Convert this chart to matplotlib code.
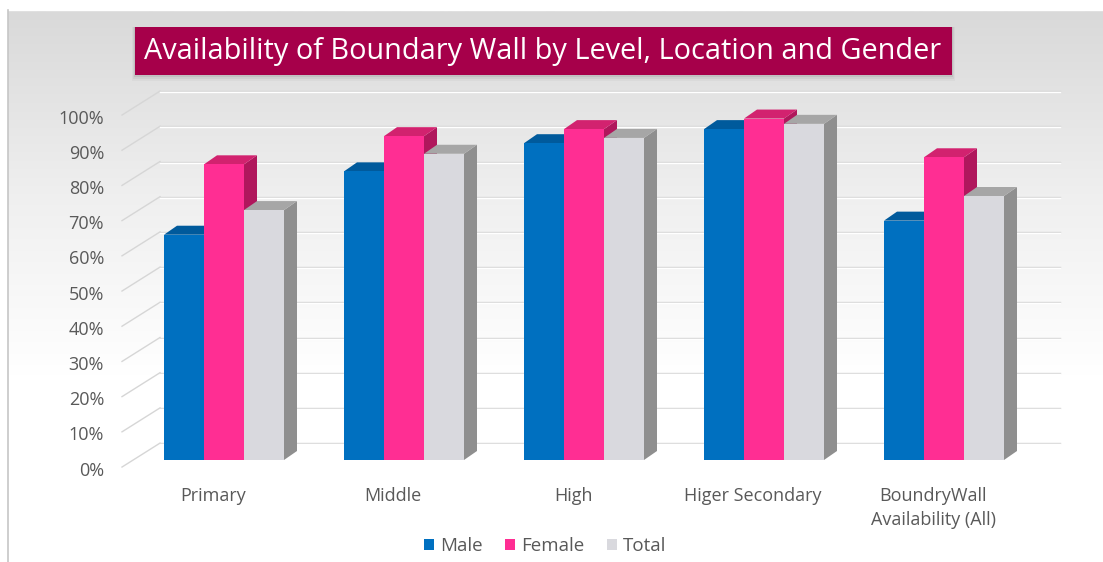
import numpy as np
import matplotlib
matplotlib.use('Agg')
import matplotlib.pyplot as plt
from matplotlib.patches import Polygon, Rectangle, Patch
from matplotlib.colors import LinearSegmentedColormap

plt.rcParams['font.family'] = ['Open Sans', 'DejaVu Sans']

# Boundary wall availability (%) by school level
categories = ['Primary', 'Middle', 'High', 'Higer Secondary', 'BoundryWall\nAvailability (All)']
male = [64, 82, 90, 94, 68]
female = [84, 92, 94, 97, 86]
total = [71, 87, 91.5, 95.5, 75]
series_names = ['Male', 'Female', 'Total']
y_ticks = list(range(0, 101, 10))

# front / top / side shades for each series
shades = {
    'Male': ('#0070c0', '#005a9c', '#004f8a'),
    'Female': ('#ff2e93', '#d2226f', '#b0175c'),
    'Total': ('#d9d9de', '#a6a6a6', '#8f8f8f'),
}

W, H = 1103, 562
fig = plt.figure(figsize=(W / 100, H / 100), dpi=100)

# background panel: grey fading to white
bg = fig.add_axes([0, 0, 1, 1])
bg.set_xlim(0, W)
bg.set_ylim(H, 0)
bg.axis('off')
grad = np.linspace(0, 1, 400).reshape(-1, 1)
cmap = LinearSegmentedColormap.from_list('bg', ['#d9d9d9', '#efefef', '#ffffff', '#ffffff'])
bg.imshow(grad, cmap=cmap, extent=[8, W, 560, 10], aspect='auto', zorder=0)
bg.add_patch(Rectangle((0, 0), W, 10, color='white', zorder=1))
bg.plot([7.5, 7.5], [10, H], color='#c6c6c6', lw=1.2, zorder=2)

# title banner with a soft shadow
for k, a in enumerate([0.05, 0.08, 0.12]):
    off = 6 - 2 * k
    bg.add_patch(Rectangle((135 - off / 2, 27), 817 + off, 48 + off,
                           color='#606060', alpha=a, lw=0, zorder=3))
bg.add_patch(Rectangle((135, 27), 817, 48, color='#a6004a', lw=0, zorder=4))
bg.text(543, 52, 'Availability of Boundary Wall by Level, Location and Gender',
        color='white', fontsize=20.8, ha='center', va='center', zorder=5)

# main plotting axes (front face of bars: 0% at y=460px, 3.52 px per %)
px_x0, px_x1, px_top, px_bot = 110, 1070, 70, 478
ax = fig.add_axes([px_x0 / W, 1 - px_bot / H, (px_x1 - px_x0) / W, (px_bot - px_top) / H])
ax.patch.set_alpha(0)
grp_px, grp_origin, y_scale, y_zero = 180, 224, 3.52, 460
ax.set_xlim((px_x0 - grp_origin) / grp_px, (px_x1 - grp_origin) / grp_px)
ax.set_ylim((y_zero - px_bot) / y_scale, (y_zero - px_top) / y_scale)
ax.axis('off')

bar_w = 40 / grp_px
dx = 13 / grp_px
dy = 9 / y_scale
back_off = 4.8      # back wall rise in %
label_off = -3.0    # axis labels sit at the front of the floor
wall_x0 = (122 - grp_origin) / grp_px
wall_x1 = (160 - grp_origin) / grp_px
wall_x2 = (1060 - grp_origin) / grp_px

# side wall and back wall gridlines
for v in y_ticks:
    ax.plot([wall_x0, wall_x1], [v + label_off + 1, v + back_off], color='#d6d6d6', lw=1, zorder=1)
    ax.plot([wall_x1, wall_x2], [v + back_off, v + back_off], color='#d6d6d6', lw=1, zorder=1)
    ax.plot([wall_x1, wall_x2], [v + back_off - 0.3, v + back_off - 0.3], color='white', lw=1, zorder=1)
    ax.text(wall_x0 - 0.1, v + label_off, f'{v}%', ha='right', va='center',
            fontsize=13, color='#595959', clip_on=False)

# 3D-looking clustered columns
x = np.arange(len(categories))
for i in x:
    for j, (name, vals) in enumerate(zip(series_names, [male, female, total])):
        h = vals[i]
        x0 = i - 1.5 * bar_w + j * bar_w
        x1 = x0 + bar_w
        front, top, side = shades[name]
        z = 3 + j
        ax.add_patch(Polygon([(x1, 0), (x1 + dx, dy), (x1 + dx, h + dy), (x1, h)],
                             closed=True, fc=side, ec='none', zorder=z))
        ax.add_patch(Polygon([(x0, h), (x1, h), (x1 + dx, h + dy), (x0 + dx, h + dy)],
                             closed=True, fc=top, ec='none', zorder=z))
        ax.bar(x0, h, width=bar_w, align='edge', color=front, lw=0, zorder=z)

# category labels
for i, cat in enumerate(categories):
    ax.text(i - 0.06, -7.8, cat, ha='center', va='top', fontsize=13,
            color='#595959', linespacing=1.4, clip_on=False)

handles = [Patch(facecolor=shades[n][0], edgecolor='none') for n in series_names]
fig.legend(handles, series_names, loc='center', bbox_to_anchor=(545 / W, 1 - 546 / H),
           ncol=3, frameon=False, fontsize=13.5, labelcolor='#595959',
           handlelength=0.55, handleheight=0.55, handletextpad=0.3, columnspacing=1.2)

fig.savefig('out.png', dpi=100)
